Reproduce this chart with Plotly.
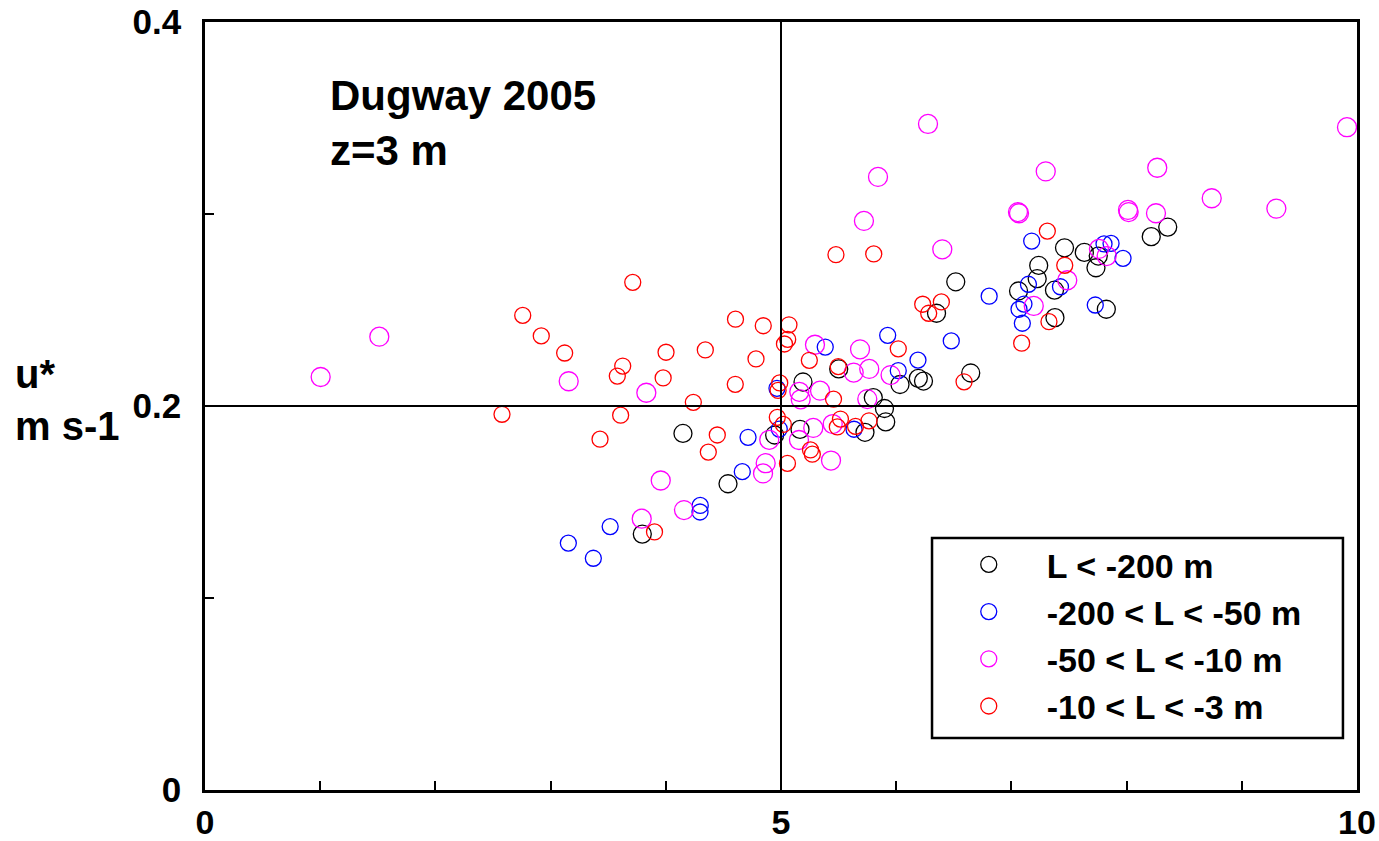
import plotly.graph_objects as go

# ---- data (x: 0-10, y: u* in m s-1) ----
black_x = [4.149, 3.796, 4.540, 4.945, 5.165, 5.191, 5.501, 5.729, 5.801, 5.898,
           5.909, 6.033, 6.192, 6.237, 6.350, 6.517, 6.647, 7.062, 7.224, 7.237,
           7.374, 7.378, 7.461, 7.633, 7.734, 7.754, 7.824, 8.214, 8.357]
black_y = [0.1857, 0.1333, 0.1595, 0.1849, 0.1878, 0.2125, 0.2193, 0.1863, 0.2044, 0.1987,
           0.1917, 0.2112, 0.2144, 0.2130, 0.2483, 0.2647, 0.2172, 0.2599, 0.2663, 0.2732,
           0.2603, 0.2460, 0.2824, 0.2800, 0.2720, 0.2781, 0.2504, 0.2882, 0.2932]

blue_x = [3.154, 3.371, 3.517, 4.299, 4.297, 4.664, 4.714, 4.965, 4.985, 5.384,
          5.634, 5.926, 6.018, 6.189, 6.478, 6.807, 7.066, 7.109, 7.095, 7.148,
          7.176, 7.426, 7.728, 7.804, 7.865, 7.969]
blue_y = [0.1286, 0.1207, 0.1372, 0.1482, 0.1448, 0.1658, 0.1837, 0.2092, 0.1880, 0.2307,
          0.1879, 0.2368, 0.2184, 0.2239, 0.2339, 0.2572, 0.2504, 0.2531, 0.2431, 0.2634,
          0.2859, 0.2621, 0.2526, 0.2844, 0.2847, 0.2769]

magenta_x = [1.004, 1.513, 3.157, 3.831, 3.956, 3.791, 4.158, 4.844, 4.867, 4.898,
             5.156, 5.159, 5.171, 5.280, 5.295, 5.339, 5.434, 5.449, 5.631, 5.686,
             5.720, 5.749, 5.766, 5.951, 5.842, 6.276, 6.400, 7.057, 7.066, 7.194,
             7.298, 7.485, 7.760, 7.827, 8.012, 8.018, 8.255, 8.266, 8.739, 9.300,
             9.913]
magenta_y = [0.2151, 0.2361, 0.2129, 0.2069, 0.1612, 0.1413, 0.1458, 0.1649, 0.1702, 0.1824,
             0.1823, 0.2074, 0.2035, 0.1886, 0.2319, 0.2080, 0.1716, 0.1906, 0.2174, 0.2295,
             0.2964, 0.2036, 0.2193, 0.2161, 0.3193, 0.3469, 0.2816, 0.3010, 0.3004, 0.2521,
             0.3222, 0.2655, 0.2818, 0.2781, 0.3021, 0.3010, 0.3004, 0.3241, 0.3082, 0.3028,
             0.3452]

red_x = [2.578, 2.758, 2.919, 3.122, 3.429, 3.579, 3.626, 3.608, 3.713, 3.902,
         3.977, 4.002, 4.239, 4.343, 4.369, 4.447, 4.605, 4.603, 4.783, 4.846,
         4.989, 4.975, 4.968, 5.020, 5.058, 5.030, 5.069, 5.056, 5.246, 5.256,
         5.272, 5.456, 5.477, 5.497, 5.516, 5.489, 5.647, 5.764, 5.805, 6.018,
         6.230, 6.282, 6.392, 6.589, 7.089, 7.312, 7.326, 7.463]
red_y = [0.1957, 0.2472, 0.2365, 0.2276, 0.1827, 0.2156, 0.2208, 0.1952, 0.2644, 0.1344,
         0.2146, 0.2280, 0.2019, 0.2292, 0.1760, 0.1849, 0.2452, 0.2113, 0.2245, 0.2418,
         0.2120, 0.2081, 0.1941, 0.1904, 0.2347, 0.2323, 0.2423, 0.1701, 0.2238, 0.1771,
         0.1749, 0.2036, 0.2788, 0.2205, 0.1932, 0.1891, 0.1894, 0.1923, 0.2792, 0.2298,
         0.2530, 0.2483, 0.2542, 0.2126, 0.2327, 0.2911, 0.2439, 0.2733]

series = [
    ("L < -200 m", black_x, black_y, "#000000", 18),
    ("-200 < L < -50 m", blue_x, blue_y, "#0000FF", 16),
    ("-50 < L < -10 m", magenta_x, magenta_y, "#FF00FF", 19),
    ("-10 < L < -3 m", red_x, red_y, "#FF0000", 16),
]

x_ticks = list(range(0, 11))
x_ticktext = ["0", "", "", "", "", "5", "", "", "", "", "10"]
y_ticks = [0, 0.1, 0.2, 0.3, 0.4]
y_ticktext = ["0", "", "0.2", "", "0.4"]
ref_x = 5
ref_y = 0.2

FONT = "Liberation Sans, Arial, sans-serif"

fig = go.Figure()
for name, xs, ys, col, sz in series:
    fig.add_trace(go.Scatter(
        x=xs, y=ys, mode="markers", name=name,
        marker=dict(symbol="circle-open", size=sz, color=col, line=dict(width=1.3, color=col)),
    ))

fig.add_vline(x=ref_x, line=dict(color="black", width=2))
fig.add_hline(y=ref_y, line=dict(color="black", width=2))

# legend frame
fig.add_shape(type="rect", xref="paper", yref="paper",
              x0=0.6311, x1=0.9878, y0=0.0677, y1=0.3281,
              line=dict(color="black", width=2.5), fillcolor="white", layer="below")

ytickfont = dict(family=FONT, size=35, color="black", weight="bold")
xtickfont = dict(family=FONT, size=34, color="black", weight="bold")

fig.update_layout(
    width=1379, height=841,
    margin=dict(l=205, r=22, t=22, b=51),
    paper_bgcolor="white", plot_bgcolor="white",
    font=dict(family=FONT, color="black"),
    showlegend=True,
    legend=dict(x=0.630, y=0.331, xanchor="left", yanchor="top",
                bgcolor="rgba(0,0,0,0)", borderwidth=0,
                font=dict(family=FONT, size=34, color="black", weight="bold"),
                itemwidth=106, tracegroupgap=0),
    xaxis=dict(range=[0, 10], tickvals=x_ticks, ticktext=x_ticktext, automargin=False,
               ticks="inside", ticklen=9, tickwidth=1.5, tickcolor="black",
               showline=True, linewidth=2.5, linecolor="black", mirror=True,
               showgrid=False, zeroline=False, ticklabelstandoff=0,
               tickfont=xtickfont),
    yaxis=dict(range=[0, 0.4], tickvals=y_ticks, ticktext=y_ticktext, automargin=False,
               ticks="inside", ticklen=9, tickwidth=1.5, tickcolor="black",
               showline=True, linewidth=2.5, linecolor="black", mirror=True,
               showgrid=False, zeroline=False, ticklabelstandoff=14,
               tickfont=ytickfont),
    annotations=[
        dict(text="Dugway 2005<br>z=3 m", xref="paper", yref="paper",
             x=0.1068, y=0.9380, xanchor="left", yanchor="top", align="left",
             showarrow=False, font=dict(family=FONT, size=42, color="black", weight="bold")),
        dict(text="u*<br>m s-1", xref="paper", yref="paper",
             x=-0.167, y=0.508, xanchor="left", yanchor="middle", align="left",
             showarrow=False, font=dict(family=FONT, size=40, color="black", weight="bold")),
    ],
)

fig.write_html("out.html")
